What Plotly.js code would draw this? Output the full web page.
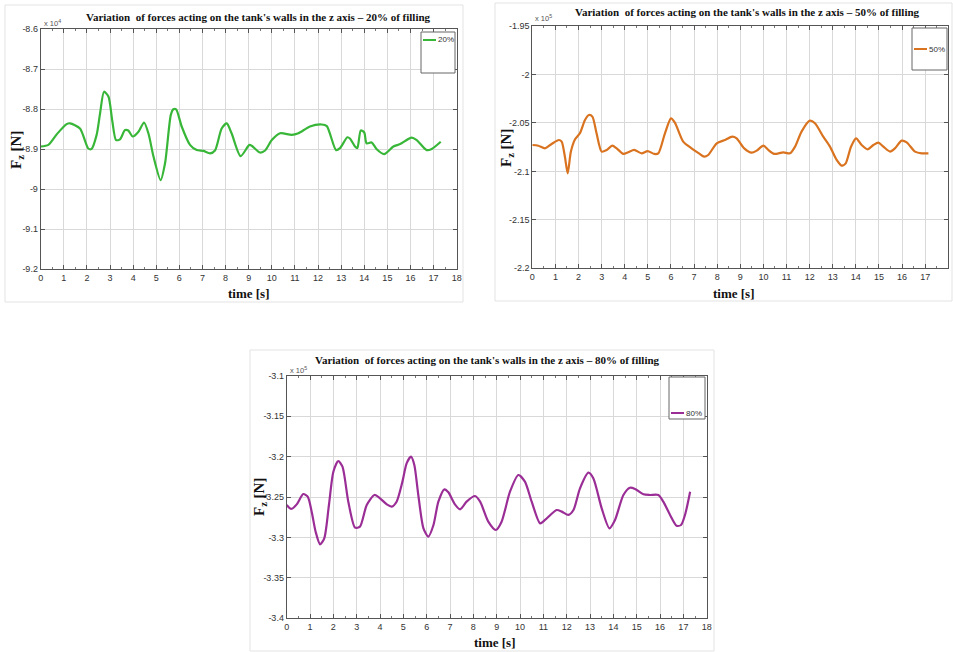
<!DOCTYPE html>
<html>
<head>
<meta charset="utf-8">
<script src="https://cdn.plot.ly/plotly-3.0.1.min.js"></script>
<style>
  html, body { margin: 0; padding: 0; background: #ffffff; }
  #chart { width: 953px; height: 652px; }
</style>
</head>
<body>
<div id="chart"></div>
<script>
// ---------- DATA (force values in units of 10^4 N / 10^5 N as on the axes) ----------
const t20 = [0,0.33,0.7,1.12,1.27,1.7,2.06,2.2,2.42,2.57,2.74,2.93,3.1,3.26,3.43,3.65,3.79,3.98,4.23,4.47,4.66,4.88,5.19,5.38,5.63,5.74,5.86,6.1,6.46,6.75,7.04,7.33,7.54,7.83,8.05,8.26,8.65,9.03,9.13,9.49,9.71,10,10.36,10.86,11.15,11.65,12.16,12.38,12.78,12.95,13.27,13.38,13.6,13.7,13.85,14,14.1,14.32,14.54,14.86,15.26,15.55,16.05,16.27,16.7,16.92,17.31];
const fz20 = [-8.893,-8.889,-8.862,-8.837,-8.835,-8.848,-8.898,-8.899,-8.864,-8.81,-8.756,-8.768,-8.83,-8.877,-8.875,-8.852,-8.853,-8.868,-8.856,-8.833,-8.86,-8.918,-8.977,-8.935,-8.814,-8.800,-8.800,-8.843,-8.889,-8.902,-8.904,-8.910,-8.903,-8.848,-8.835,-8.86,-8.917,-8.889,-8.891,-8.908,-8.903,-8.877,-8.86,-8.864,-8.86,-8.843,-8.838,-8.842,-8.902,-8.897,-8.87,-8.873,-8.893,-8.897,-8.853,-8.858,-8.885,-8.883,-8.9,-8.912,-8.893,-8.887,-8.871,-8.877,-8.902,-8.899,-8.881];

const t50 = [0,0.26,0.55,0.84,1.15,1.27,1.41,1.53,1.67,1.85,2.06,2.28,2.45,2.6,2.78,3.0,3.22,3.46,3.65,3.94,4.15,4.41,4.73,4.99,5.28,5.45,5.74,6.0,6.17,6.53,6.89,7.21,7.44,7.61,7.98,8.34,8.65,8.84,9.17,9.49,9.71,10.0,10.21,10.47,10.86,11.15,11.37,11.65,12.01,12.23,12.59,12.88,13.17,13.38,13.56,13.79,14.01,14.25,14.51,14.76,14.97,15.19,15.48,15.69,15.98,16.2,16.56,16.85,17.14];
const fz50 = [-2.0728,-2.0735,-2.0762,-2.0717,-2.0676,-2.0693,-2.0848,-2.102,-2.0796,-2.0669,-2.0607,-2.047,-2.0418,-2.0435,-2.0607,-2.0796,-2.0779,-2.0735,-2.0762,-2.082,-2.0803,-2.0779,-2.0814,-2.079,-2.082,-2.0814,-2.0607,-2.0453,-2.0497,-2.0693,-2.0762,-2.0814,-2.0848,-2.0831,-2.071,-2.0676,-2.0642,-2.0659,-2.0762,-2.0807,-2.0786,-2.0735,-2.0779,-2.082,-2.0803,-2.0814,-2.0745,-2.059,-2.0477,-2.0504,-2.0642,-2.0745,-2.0882,-2.0941,-2.0917,-2.0745,-2.0659,-2.0728,-2.0772,-2.0728,-2.0704,-2.0745,-2.0796,-2.0762,-2.0683,-2.07,-2.0796,-2.0814,-2.0814];

const t80 = [0,0.19,0.43,0.71,0.9,1.07,1.24,1.43,1.61,1.81,2.0,2.21,2.39,2.64,2.93,3.14,3.43,3.76,4.0,4.29,4.5,4.71,4.96,5.14,5.33,5.47,5.64,5.86,6.07,6.29,6.5,6.76,6.93,7.21,7.43,7.71,8.07,8.29,8.64,8.96,9.21,9.57,9.93,10.21,10.5,10.86,11.07,11.57,11.79,12.07,12.29,12.57,12.93,13.14,13.5,13.83,14.07,14.43,14.71,14.93,15.29,15.57,15.93,16.14,16.43,16.71,16.9,17.07,17.29];
const fz80 = [-3.2599,-3.2648,-3.2591,-3.2463,-3.2496,-3.2681,-3.2929,-3.3085,-3.3011,-3.2599,-3.2187,-3.2055,-3.2125,-3.2558,-3.2879,-3.2867,-3.2599,-3.2475,-3.2516,-3.2591,-3.2619,-3.2558,-3.231,-3.2084,-3.2001,-3.2104,-3.2475,-3.2887,-3.299,-3.2846,-3.2558,-3.2405,-3.2442,-3.2591,-3.2652,-3.2558,-3.2488,-3.2558,-3.2805,-3.2908,-3.2805,-3.2434,-3.2228,-3.231,-3.2558,-3.2826,-3.2784,-3.2661,-3.2681,-3.2722,-3.2661,-3.2393,-3.2199,-3.2269,-3.264,-3.2887,-3.2784,-3.2475,-3.2385,-3.2401,-3.2467,-3.2475,-3.2475,-3.2558,-3.2722,-3.2855,-3.2846,-3.2722,-3.2434];

const xTicks = [0,1,2,3,4,5,6,7,8,9,10,11,12,13,14,15,16,17,18];
const yTicks20 = [-8.6,-8.7,-8.8,-8.9,-9,-9.1,-9.2];
const yTickText20 = ["-8.6","-8.7","-8.8","-8.9","-9","-9.1","-9.2"];
const yTicks50 = [-1.95,-2,-2.05,-2.1,-2.15,-2.2];
const yTickText50 = ["-1.95","-2","-2.05","-2.1","-2.15","-2.2"];
const yTicks80 = [-3.1,-3.15,-3.2,-3.25,-3.3,-3.35,-3.4];
const yTickText80 = ["-3.1","-3.15","-3.2","-3.25","-3.3","-3.35","-3.4"];

const titles = [
  "Variation  of forces acting on the tank's walls in the z axis \u2013 20% of filling",
  "Variation  of forces acting on the tank's walls in the z axis \u2013 50% of filling",
  "Variation  of forces acting on the tank's walls in the z axis \u2013 80% of filling"
];
const seriesNames = ["20%", "50%", "80%"];
const multipliers = ["x 10<sup>4</sup>", "x 10<sup>5</sup>", "x 10<sup>5</sup>"];
const colors = ["#38b638", "#d9731f", "#9a2e96"];

// ---------- LAYOUT HELPERS ----------
const W = 953, H = 652;
const X = px => px / W;
const Y = py => 1 - py / H;

// plot boxes in pixels: [left, right, top, bottom]
const boxes = [
  [40.7, 456.7, 29.3, 269.3],
  [532.3, 948.3, 26, 268.3],
  [286.7, 706.7, 375.7, 618.3]
];
const figFrames = [ [5, 463, 5, 302], [495, 952, 3, 301], [250, 714, 350, 651] ];
const legendBoxes = [ [421, 455, 32, 73, 40], [912, 947, 28, 70, 49], [669, 705, 377, 419, 413] ];
const titlePos = [ [258, 17], [747, 12], [488, 360] ];
const ylabPos = [ [17, 150], [507, 148], [260, 497] ];
const xlabPos = [ [249, 293], [734, 293], [495, 642] ];
const multPos = [ [42, 23], [533, 18], [288, 370] ];

const tickFont = { family: "Liberation Sans, Arial, sans-serif", size: 9, color: "#333" };
const serif = "Liberation Serif, Times New Roman, serif";

function xAxis(i) {
  return {
    domain: [X(boxes[i][0]), X(boxes[i][1])],
    anchor: i === 0 ? "y" : "y" + (i + 1),
    range: [0, 18], tickvals: xTicks, ticktext: xTicks.map(String),
    showgrid: true, gridcolor: "#d9d9d9", gridwidth: 1,
    zeroline: false, showline: true, linecolor: "#555", linewidth: 1, mirror: "ticks",
    ticks: "inside", ticklen: 4, tickcolor: "#555", tickfont: tickFont,
    minor: { dtick: 0.5, tick0: 0, ticks: "inside", ticklen: 2, tickcolor: "#777", showgrid: false },
    fixedrange: true
  };
}
function yAxis(i, vals, txt) {
  return {
    domain: [Y(boxes[i][3]), Y(boxes[i][2])],
    anchor: i === 0 ? "x" : "x" + (i + 1),
    range: [vals[vals.length - 1], vals[0]], tickvals: vals, ticktext: txt,
    showgrid: true, gridcolor: "#d9d9d9", gridwidth: 1,
    zeroline: false, showline: true, linecolor: "#555", linewidth: 1, mirror: "ticks",
    ticks: "inside", ticklen: 4, tickcolor: "#555", tickfont: tickFont,
    fixedrange: true
  };
}

const tSeries = [t20, t50, t80];
const fSeries = [fz20, fz50, fz80];
const traces = tSeries.map((t, i) => ({
  type: "scatter", mode: "lines", x: t, y: fSeries[i],
  xaxis: i === 0 ? "x" : "x" + (i + 1),
  yaxis: i === 0 ? "y" : "y" + (i + 1),
  name: seriesNames[i], showlegend: false,
  line: { color: colors[i], width: 2.2, shape: "spline", smoothing: 0.7 },
  hoverinfo: "x+y"
}));

const shapes = [];
const annotations = [];
for (let i = 0; i < 3; i++) {
  const f = figFrames[i];
  shapes.push({ type: "rect", xref: "paper", yref: "paper", layer: "below",
    x0: X(f[0]), x1: X(f[1]), y0: Y(f[3]), y1: Y(f[2]),
    line: { color: "#e3e3e3", width: 1 }, fillcolor: "rgba(0,0,0,0)" });
  const L = legendBoxes[i];
  shapes.push({ type: "rect", xref: "paper", yref: "paper", layer: "above",
    x0: X(L[0]), x1: X(L[1]), y0: Y(L[3]), y1: Y(L[2]),
    line: { color: "#666", width: 1 }, fillcolor: "#ffffff" });
  shapes.push({ type: "line", xref: "paper", yref: "paper", layer: "above",
    x0: X(L[0] + 2), x1: X(L[0] + 15), y0: Y(L[4]), y1: Y(L[4]),
    line: { color: colors[i], width: 2 } });
  annotations.push({ xref: "paper", yref: "paper", x: X(L[0] + 15), y: Y(L[4]),
    xanchor: "left", yanchor: "middle", showarrow: false, text: seriesNames[i],
    font: { family: "Liberation Sans, Arial, sans-serif", size: 8, color: "#333" } });

  annotations.push({ xref: "paper", yref: "paper", x: X(titlePos[i][0]), y: Y(titlePos[i][1]),
    xanchor: "center", yanchor: "middle", showarrow: false, text: "<b>" + titles[i] + "</b>",
    font: { family: serif, size: 11, color: "#111" } });
  annotations.push({ xref: "paper", yref: "paper", x: X(ylabPos[i][0]), y: Y(ylabPos[i][1]),
    xanchor: "center", yanchor: "middle", showarrow: false, textangle: -90,
    text: "<b>F<sub>z</sub> [N]</b>", font: { family: serif, size: 15, color: "#111" } });
  annotations.push({ xref: "paper", yref: "paper", x: X(xlabPos[i][0]), y: Y(xlabPos[i][1]),
    xanchor: "center", yanchor: "middle", showarrow: false,
    text: "<b>time [s]</b>", font: { family: serif, size: 13, color: "#111" } });
  annotations.push({ xref: "paper", yref: "paper", x: X(multPos[i][0]), y: Y(multPos[i][1]),
    xanchor: "left", yanchor: "middle", showarrow: false,
    text: multipliers[i], font: { family: "Liberation Sans, Arial, sans-serif", size: 7.5, color: "#555" } });
}

const layout = {
  width: W, height: H,
  margin: { l: 0, r: 0, t: 0, b: 0 },
  paper_bgcolor: "#ffffff", plot_bgcolor: "#ffffff",
  showlegend: false,
  xaxis: xAxis(0), yaxis: yAxis(0, yTicks20, yTickText20),
  xaxis2: xAxis(1), yaxis2: yAxis(1, yTicks50, yTickText50),
  xaxis3: xAxis(2), yaxis3: yAxis(2, yTicks80, yTickText80),
  shapes: shapes, annotations: annotations
};

Plotly.newPlot("chart", traces, layout, { displayModeBar: false, staticPlot: true });
</script>
</body>
</html>
